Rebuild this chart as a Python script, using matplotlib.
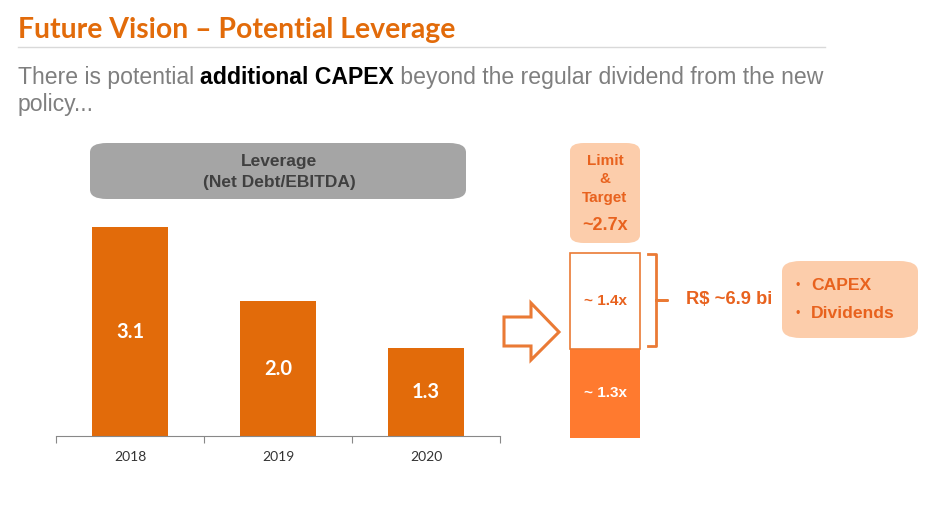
import matplotlib
matplotlib.use("Agg")
import matplotlib.pyplot as plt
from matplotlib.patches import FancyBboxPatch, Polygon
from matplotlib.lines import Line2D

# ---- data ----
years = ["2018", "2019", "2020"]
leverage = [3.1, 2.0, 1.3]
stack_labels = ["~ 1.3x", "~ 1.4x"]
stack_values = [1.3, 1.4]
limit_lines = ["Limit", "&", "Target"]
limit_value = "~2.7x"
amount_label = "R$ ~6.9 bi"
uses = ["CAPEX", "Dividends"]

ORANGE = "#E26B0A"
BRIGHT = "#FF7A2F"
PEACH = "#FCCDAB"
TXT_OR = "#E8621E"

W, H = 933, 525
fig = plt.figure(figsize=(W / 100, H / 100), dpi=100)


def fx(x):
    return x / W


def fy(y):
    return 1 - y / H


# ---- title ----
fig.text(fx(18), fy(30), "Future Vision \u2013 Potential Leverage", family="Lato",
         weight="bold", size=20.4, color=ORANGE, va="center", ha="left")
fig.add_artist(Line2D([fx(18), fx(825)], [fy(47), fy(47)], color="#D9D9D9", lw=1))

# ---- subtitle with bold part ----
renderer = fig.canvas.get_renderer()
parts = [("There is potential ", "normal", "#7F7F7F"),
         ("additional CAPEX", "bold", "black"),
         (" beyond the regular dividend from the new", "normal", "#7F7F7F")]
x = 18
for s, wt, c in parts:
    t = fig.text(fx(x), fy(77), s, family="Liberation Sans", weight=wt, size=16.6,
                 color=c, va="center", ha="left")
    x += t.get_window_extent(renderer).width
fig.text(fx(18), fy(105), "policy...", family="Liberation Sans", size=16.6,
         color="#7F7F7F", va="center", ha="left")

# ---- left bar chart ----
scale = 67.4  # px per unit
ax = fig.add_axes([fx(56), fy(436), fx(500 - 56), (436 - 140) / H])
ax.bar(range(3), leverage, width=0.51, color=ORANGE)
ax.set_xlim(-0.5, 2.5)
ax.set_ylim(0, 296 / scale)
for i, v in enumerate(leverage):
    ax.text(i, v / 2, f"{v:.1f}", ha="center", va="center", color="white",
            family="Lato", weight="bold", size=14.5)
for s in ["top", "right", "left"]:
    ax.spines[s].set_visible(False)
ax.spines["bottom"].set_color("#888888")
ax.set_yticks([])
ax.set_xticks([-0.5, 0.5, 1.5, 2.5])
ax.set_xticklabels([])
ax.tick_params(axis="x", length=5, color="#888888", direction="out")
ax.set_xticks(range(3), minor=True)
ax.set_xticklabels(years, minor=True, family="Lato", size=10, color="#333333")
ax.tick_params(axis="x", which="minor", length=0, pad=11)

# grey header box
fig.add_artist(FancyBboxPatch((fx(90), fy(199)), fx(466 - 90), (199 - 143) / H,
                              boxstyle="round,pad=0,rounding_size=0.018",
                              fc="#A5A5A5", ec="none", transform=fig.transFigure))
fig.text(fx(279), fy(172), "Leverage\n(Net Debt/EBITDA)", ha="center", va="center",
         family="Liberation Sans", weight="bold", size=12.5, color="#404040",
         linespacing=1.45)

# ---- arrow ----
arrow_px = [(504, 317), (531, 317), (531, 303), (559, 332), (531, 360),
            (531, 346), (504, 346)]
fig.add_artist(Polygon([(fx(a), fy(b)) for a, b in arrow_px], closed=True,
                       fc="white", ec="#EA7A35", lw=2.2, transform=fig.transFigure))

# ---- stacked bar ----
scale2 = 68.5
ax2 = fig.add_axes([fx(560), fy(438), fx(90), (438 - 140) / H])
ax2.set_xlim(-0.5, 0.5)
ax2.set_ylim(0, 298 / scale2)
ax2.axis("off")
ax2.bar(0, stack_values[0], width=70 / 90, color=BRIGHT)
ax2.bar(0, stack_values[1], bottom=stack_values[0], width=70 / 90 - 0.01,
        color="white", edgecolor="#EA7A35", lw=1.2)
ax2.text(0, stack_values[0] / 2, stack_labels[0], ha="center", va="center",
         color="white", family="Liberation Sans", weight="bold", size=11)
ax2.text(0, stack_values[0] + stack_values[1] / 2, stack_labels[1], ha="center",
         va="center", color=TXT_OR, family="Liberation Sans", weight="bold", size=11)

# limit box
fig.add_artist(FancyBboxPatch((fx(570), fy(243)), fx(70), (243 - 143) / H,
                              boxstyle="round,pad=0,rounding_size=0.015",
                              fc=PEACH, ec="none", transform=fig.transFigure))
for yy, s in zip([161, 179, 198], limit_lines):
    fig.text(fx(605), fy(yy), s, ha="center", va="center", color=TXT_OR,
             family="Liberation Sans", weight="bold", size=11)
fig.text(fx(605), fy(226), limit_value, ha="center", va="center", color=TXT_OR,
         family="Liberation Sans", weight="bold", size=13)

# bracket
bx = [648, 656, 656, 667, 656, 656, 648]
by = [254, 254, 300, 300, 300, 346, 346]
fig.add_artist(Line2D([fx(v) for v in bx], [fy(v) for v in by], color="#EA7A35",
                      lw=2))
fig.text(fx(686), fy(300), amount_label, ha="left", va="center", color=TXT_OR,
         family="Liberation Sans", weight="bold", size=13.2)

# uses box
fig.add_artist(FancyBboxPatch((fx(782), fy(338)), fx(918 - 782), (338 - 261) / H,
                              boxstyle="round,pad=0,rounding_size=0.02",
                              fc=PEACH, ec="none", transform=fig.transFigure))
for yy, s in zip([286, 314], uses):
    fig.text(fx(796), fy(yy), "\u2022", ha="left", va="center", color=TXT_OR,
             family="Liberation Sans", size=9)
    fig.text(fx(811), fy(yy), s, ha="left", va="center", color=TXT_OR,
             family="Liberation Sans", weight="bold", size=12.6)

fig.savefig("out.png", dpi=100)
